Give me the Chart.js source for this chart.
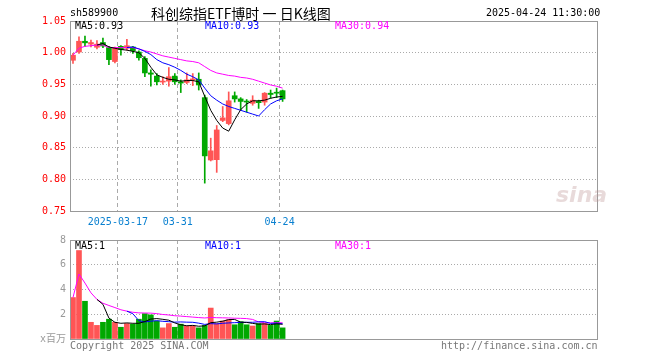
<!DOCTYPE html>
<html lang="zh">
<head>
<meta charset="UTF-8">
<title>科创综指ETF博时 日K线图</title>
<script src="https://cdn.jsdelivr.net/npm/chart.js"></script>
<style>
  body { margin: 0; background: #fff; width: 660px; height: 360px; position: relative; overflow: hidden; }
  canvas { position: absolute; left: 0; }
  .t { position: absolute; font: 10px "DejaVu Sans Mono", monospace; line-height: 12px; white-space: pre; }
</style>
</head>
<body>
<canvas id="kChart" width="660" height="232" style="top:0"></canvas>
<canvas id="volChart" width="660" height="130" style="top:230px"></canvas>

<div class="t" style="left:70px;top:7px">sh589900</div>
<div class="t" style="left:151px;top:4px;font:14px 'Noto Sans CJK SC';line-height:18px">科创综指ETF博时 一 日K线图</div>
<div class="t" style="left:486px;top:7px">2025-04-24 11:30:00</div>

<div class="t" id="lblMa5" style="left:75px;top:20px;color:#000"></div>
<div class="t" id="lblMa10" style="left:205px;top:20px;color:#0000ff"></div>
<div class="t" id="lblMa30" style="left:335px;top:20px;color:#ff00ff"></div>

<div class="t" id="lblVma5" style="left:75px;top:240px;color:#000"></div>
<div class="t" id="lblVma10" style="left:205px;top:240px;color:#0000ff"></div>
<div class="t" id="lblVma30" style="left:335px;top:240px;color:#ff00ff"></div>

<div class="t" style="left:556px;top:182px;font:italic bold 22px 'DejaVu Sans';line-height:26px;color:rgba(190,150,150,0.35)">sina</div>

<div class="t" style="left:70px;top:340px;color:#777">Copyright 2025 SINA.COM</div>
<div class="t" style="left:441px;top:340px;color:#777">http://finance.sina.com.cn</div>

<script>
// trading days shown (36 of them), rest of the axis is empty space
const dates = ['2025-03-05','2025-03-06','2025-03-07','2025-03-10','2025-03-11','2025-03-12','2025-03-13','2025-03-14',
  '2025-03-17','2025-03-18','2025-03-19','2025-03-20','2025-03-21','2025-03-24','2025-03-25','2025-03-26','2025-03-27','2025-03-28',
  '2025-03-31','2025-04-01','2025-04-02','2025-04-03','2025-04-07','2025-04-08','2025-04-09','2025-04-10','2025-04-11',
  '2025-04-14','2025-04-15','2025-04-16','2025-04-17','2025-04-18','2025-04-21','2025-04-22','2025-04-23','2025-04-24'];
const tickIndex = [8, 18, 35];
const tickText = ['2025-03-17', '03-31', '04-24'];

const open  = [0.988, 1.001, 1.018, 1.0135, 1.0085, 1.016, 1.008, 0.986, 1.010, 1.007, 1.009, 1.001, 0.991, 0.968, 0.963, 0.9536, 0.955, 0.963,
  0.954, 0.953, 0.957, 0.958, 0.929, 0.8305, 0.831, 0.893, 0.888, 0.932, 0.927, 0.9235, 0.920, 0.923, 0.922, 0.936, 0.937, 0.940];
const high  = [0.999, 1.025, 1.026, 1.020, 1.019, 1.023, 1.010, 1.009, 1.011, 1.021, 1.010, 1.003, 0.994, 0.973, 0.967, 0.962, 0.9765, 0.967,
  0.957, 0.968, 0.967, 0.968, 0.933, 0.865, 0.885, 0.915, 0.938, 0.938, 0.929, 0.926, 0.932, 0.925, 0.937, 0.941, 0.944, 0.941];
const low   = [0.983, 0.999, 1.010, 1.009, 1.006, 1.008, 0.981, 0.984, 0.996, 1.004, 0.999, 0.988, 0.962, 0.947, 0.949, 0.950, 0.947, 0.950,
  0.937, 0.951, 0.948, 0.941, 0.794, 0.829, 0.811, 0.891, 0.886, 0.922, 0.910, 0.906, 0.917, 0.912, 0.917, 0.928, 0.929, 0.923];
const close = [0.996, 1.018, 1.0155, 1.016, 1.0135, 1.0105, 0.989, 1.008, 1.005, 1.011, 1.003, 0.992, 0.968, 0.966, 0.954, 0.955, 0.962, 0.954,
  0.952, 0.957, 0.958, 0.949, 0.837, 0.845, 0.878, 0.897, 0.924, 0.927, 0.923, 0.922, 0.925, 0.921, 0.936, 0.934, 0.936, 0.927];

const ma5  = [null, null, null, null, 1.012, 1.0145, 1.009, 1.007, 1.005, 1.004, 1.002, 1.000, 0.991, 0.977, 0.965, 0.961, 0.958, 0.957,
  0.955, 0.956, 0.956, 0.954, 0.931, 0.909, 0.893, 0.881, 0.876, 0.894, 0.910, 0.919, 0.924, 0.924, 0.925, 0.928, 0.930, 0.931];
const ma10 = [null, null, null, null, null, null, null, null, null, 1.008, 1.009, 1.006, 1.002, 0.997, 0.989, 0.984, 0.981, 0.977,
  0.972, 0.966, 0.962, 0.957, 0.944, 0.932, 0.925, 0.919, 0.915, 0.912, 0.909, 0.906, 0.903, 0.900, 0.910, 0.919, 0.924, 0.927];
const ma30 = [0.996, 1.007, 1.010, 1.011, 1.012, 1.012, 1.008, 1.008, 1.008, 1.008, 1.008, 1.006, 1.003, 1.001, 0.998, 0.995, 0.993, 0.991,
  0.989, 0.987, 0.986, 0.984, 0.978, 0.972, 0.968, 0.966, 0.964, 0.963, 0.961, 0.960, 0.958, 0.955, 0.952, 0.949, 0.947, 0.944];

// volume, in millions
const volume = [3.35, 7.15, 3.05, 1.35, 1.1, 1.35, 1.6, 1.35, 0.95, 1.25, 1.2, 1.6, 2.05, 1.95, 1.45, 0.9, 1.25, 0.95,
  1.2, 1.05, 1.05, 0.9, 1.1, 2.5, 1.25, 1.45, 1.55, 1.15, 1.4, 1.15, 1.05, 1.25, 1.25, 1.1, 1.45, 0.9];
const vma5  = [null, null, null, null, 3.2, 2.8, 1.69, 1.35, 1.27, 1.3, 1.27, 1.27, 1.41, 1.61, 1.65, 1.59, 1.52, 1.3,
  1.15, 1.07, 1.1, 1.03, 1.06, 1.32, 1.36, 1.44, 1.57, 1.58, 1.36, 1.34, 1.26, 1.2, 1.22, 1.16, 1.22, 1.19];
const vma10 = [null, null, null, null, null, null, null, null, null, 2.25, 2.04, 1.48, 1.38, 1.44, 1.48, 1.43, 1.40, 1.36,
  1.38, 1.36, 1.35, 1.28, 1.18, 1.24, 1.22, 1.27, 1.30, 1.32, 1.34, 1.35, 1.35, 1.39, 1.40, 1.26, 1.28, 1.23];
const vma30 = [3.35, 5.25, 4.52, 3.73, 3.2, 2.89, 2.71, 2.54, 2.36, 2.25, 2.16, 2.11, 2.10, 2.09, 2.05, 1.98, 1.94, 1.88,
  1.85, 1.81, 1.77, 1.73, 1.70, 1.74, 1.72, 1.71, 1.70, 1.68, 1.67, 1.65, 1.58, 1.38, 1.32, 1.31, 1.32, 1.31];

const SLOTS = 88;
const RED = '#ff5555', GREEN = '#00a800';
const mono = { family: "'DejaVu Sans Mono', 'Noto Sans CJK SC', monospace", size: 10 };
const labels = dates.concat(new Array(SLOTS - dates.length).fill(''));
const candleColor = close.map((c, i) => c >= open[i] ? RED : GREEN);

// header labels
const last = a => a[a.length - 1];
document.getElementById('lblMa5').textContent = 'MA5:' + last(ma5).toFixed(2);
document.getElementById('lblMa10').textContent = 'MA10:' + last(ma10).toFixed(2);
document.getElementById('lblMa30').textContent = 'MA30:' + last(ma30).toFixed(2);
document.getElementById('lblVma5').textContent = 'MA5:' + Math.round(last(vma5));
document.getElementById('lblVma10').textContent = 'MA10:' + Math.round(last(vma10));
document.getElementById('lblVma30').textContent = 'MA30:' + Math.round(last(vma30));

// grey frame round the plot area
const framePlugin = {
  id: 'frame',
  afterDraw(chart) {
    const { ctx, chartArea: a } = chart;
    ctx.save();
    ctx.strokeStyle = '#999';
    ctx.lineWidth = 1;
    ctx.strokeRect(Math.round(a.left) + 0.5, Math.round(a.top) + 0.5, Math.round(a.right - a.left), Math.round(a.bottom - a.top));
    ctx.restore();
  }
};

function maLine(data, color) {
  return { type: 'line', data: data, borderColor: color, borderWidth: 1, pointRadius: 0, tension: 0, order: 0 };
}

function xScale(showLabels, height) {
  return {
    type: 'category',
    offset: true,
    grid: { offset: true, drawTicks: false, color: c => tickIndex.includes(c.index) ? '#aaa' : 'rgba(0,0,0,0)' },
    border: { display: false, dash: [4, 3] },
    ticks: {
      display: showLabels, autoSkip: false, maxRotation: 0, minRotation: 0, padding: 5, labelOffset: -3,
      color: '#0a80d0', font: mono,
      callback: (v, i) => { const k = tickIndex.indexOf(i); return k >= 0 ? tickText[k] : ''; }
    },
    afterFit: s => { s.height = height; }
  };
}

const baseOptions = {
  responsive: false,
  animation: false,
  devicePixelRatio: 1,
  plugins: { legend: { display: false }, tooltip: { enabled: false } },
};

new Chart(document.getElementById('kChart'), {
  data: {
    labels: labels,
    datasets: [
      maLine(ma5, '#000000'),
      maLine(ma10, '#0000ff'),
      maLine(ma30, '#ff00ff'),
      { type: 'bar', data: open.map((o, i) => [o, close[i]]), backgroundColor: candleColor, barThickness: 5, grouped: false, minBarLength: 1, order: 1 },
      { type: 'bar', data: low.map((l, i) => [l, high[i]]), backgroundColor: candleColor, barThickness: 1, grouped: false, order: 2 }
    ]
  },
  options: Object.assign({}, baseOptions, {
    layout: { padding: { left: 0, right: 63, top: 21, bottom: 0 } },
    scales: {
      x: xScale(true, 21),
      y: {
        min: 0.75, max: 1.05,
        ticks: { stepSize: 0.05, color: '#ff0000', padding: 4, font: mono, callback: v => v.toFixed(2) },
        grid: { drawTicks: false, color: c => (c.tick && (c.tick.value < 0.76 || c.tick.value > 1.04)) ? 'rgba(0,0,0,0)' : '#aaa' },
        border: { display: false, dash: [1, 2] },
        afterFit: s => { s.width = 70; }
      }
    }
  }),
  plugins: [framePlugin]
});

new Chart(document.getElementById('volChart'), {
  data: {
    labels: labels,
    datasets: [
      maLine(vma5, '#000000'),
      maLine(vma10, '#0000ff'),
      maLine(vma30, '#ff00ff'),
      { type: 'bar', data: volume, backgroundColor: candleColor, barThickness: 5, grouped: false, order: 1 }
    ]
  },
  options: Object.assign({}, baseOptions, {
    layout: { padding: { left: 0, right: 63, top: 10, bottom: 0 } },
    scales: {
      x: xScale(false, 21),
      y: {
        min: 0, max: 8,
        ticks: { stepSize: 2, color: '#999', padding: 4, font: mono, callback: v => v === 0 ? 'x百万' : v },
        grid: { drawTicks: false, color: c => (c.tick && (c.tick.value === 0 || c.tick.value === 8)) ? 'rgba(0,0,0,0)' : '#aaa' },
        border: { display: false, dash: [1, 2] },
        afterFit: s => { s.width = 70; }
      }
    }
  }),
  plugins: [framePlugin]
});
</script>
</body>
</html>
